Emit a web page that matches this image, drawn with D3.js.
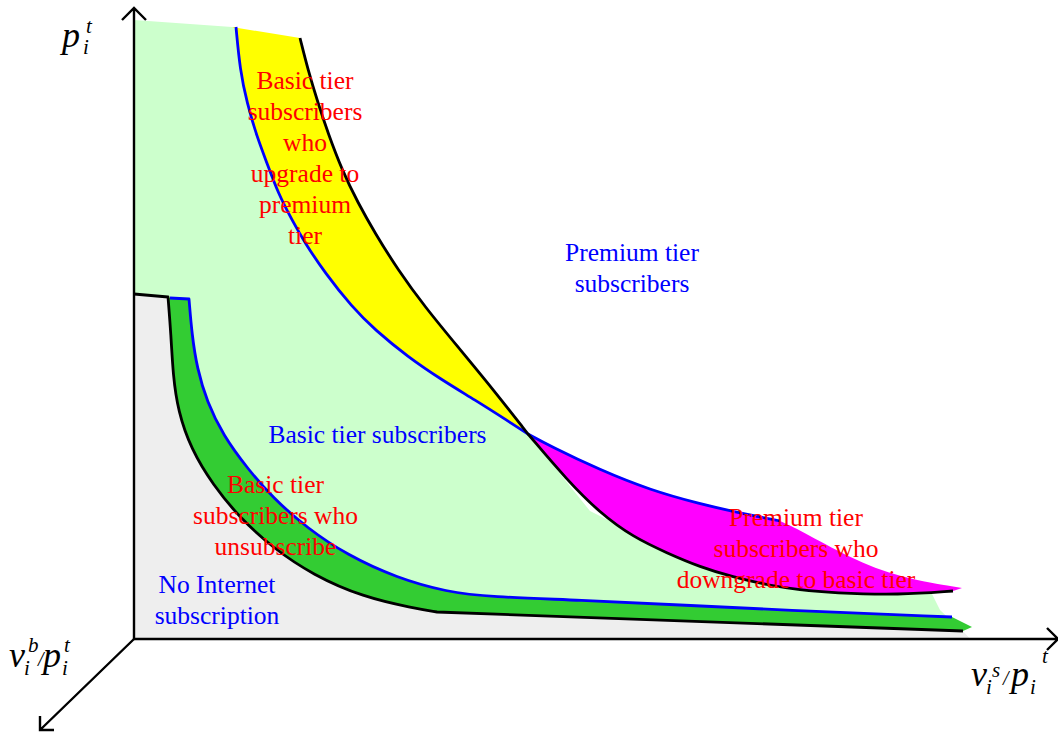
<!DOCTYPE html>
<html><head><meta charset="utf-8">
<script src="https://cdn.jsdelivr.net/npm/d3@7"></script>
<style>html,body{margin:0;padding:0;background:#fff;overflow:hidden}</style>
</head><body><svg id="c" width="1058" height="734"></svg>
<script>
// ---- data (schematic units: x = v_i^s/p_i^t, y = p_i^t) ----
const crossing = [39.4, 20.5];
const upperBlue = [[10.2,61.2],[10.6,56.9],[11.3,53.6],[12.3,50.2],[13.3,47.6],[14.4,44.6],[15.8,41.9],[17.1,39.6],[19.1,36.6],[21.8,33.2],[24.1,30.9],[27.4,28.2],[30.8,25.9],[34.1,23.9],[37.4,21.8],[39.4,20.5],[41.6,19.3],[46.6,16.9],[51.6,14.9],[56.6,13.5],[60.6,12.6],[64.6,11.8]];
const downgradeEdge = [[64.6,11.8],[66.6,10.9],[71.6,8.1],[76.6,6.1],[82.8,5.1]];
const upperBlack = [[16.6,60.1],[17.4,56.9],[18.4,53.6],[19.4,50.6],[20.8,46.9],[22.4,43.6],[24.1,40.6],[26.4,36.9],[29.1,33.2],[32.4,29.2],[35.8,25.1],[39.4,20.5],[43.3,15.9],[46.6,12.6],[49.9,10.2],[53.3,8.6],[56.6,7.2],[59.9,6.2],[63.3,5.4],[66.6,4.9],[69.9,4.6],[76.6,4.4],[81.9,4.8]];
const basicTop = [[0,61.9],[9.8,61.2]];
const upgradeTop = [[9.8,61.2],[16.6,60.1]];
const basicRightEdge = [[45.6,12.8],[48.0,11.6],[49.9,10.6],[53.3,9.0],[56.6,7.6],[59.9,6.6],[63.3,5.8],[66.6,5.3],[69.9,5.0],[76.6,4.8],[79.6,4.9],[80.6,2.9],[83.6,0]];
const lowerBlackTop = [[0,34.5],[3.4,34.2]];
const lowerBlack = [[3.4,34.2],[3.7,30.4],[3.9,26.4],[4.4,22.8],[5.7,19.0],[7.9,15.4],[10.6,12.1],[13.9,9.1],[17.9,6.4],[22.9,4.2],[27.9,3.1],[30.3,2.7]];
const lowerBlackTail = [[30.3,2.7],[82.9,0.8]];
const lowerBlueTop = [[3.6,34.1],[5.5,34.0]];
const lowerBlue = [[5.5,34.0],[5.8,30.4],[6.3,27.1],[7.3,23.7],[8.9,20.4],[11.3,17.1],[13.9,14.1],[17.3,11.1],[21.3,8.4],[26.3,6.1],[31.3,4.7],[35.6,4.2],[44.6,3.9],[54.6,3.4],[64.6,2.9],[81.8,2.2]];
const unsubscribeTip = [[81.8,2.2],[83.8,1.2],[82.9,0.8]];
const noInternetCorner = [[82.9,0.8],[83.6,0],[0,0]];

const labels = [
  {lines:["Basic tier","subscribers","who","upgrade to","premium","tier"], color:"#ff0000"},
  {lines:["Premium tier","subscribers"], color:"#0000ff"},
  {lines:["Basic tier subscribers"], color:"#0000ff"},
  {lines:["Basic tier","subscribers who","unsubscribe"], color:"#ff0000"},
  {lines:["No Internet","subscription"], color:"#0000ff"},
  {lines:["Premium tier","subscribers who","downgrade to basic tier"], color:"#ff0000"}
];
const labelAnchors = [[17.1,55.0],[49.8,37.8],[24.35,19.6],[14.15,14.6],[8.3,4.6],[66.2,11.3]];

// ---- drawing ----
const svg = d3.select("#c");
const x = d3.scaleLinear().domain([0, 92.4]).range([134, 1058]);
const y = d3.scaleLinear().domain([0, 63.9]).range([639, 0]);
const lin = d3.curveLinear, smooth = d3.curveBasis;
function seg(pts, curve, first){
  const s = d3.line().x(d=>x(d[0])).y(d=>y(d[1])).curve(curve)(pts);
  return first ? s : s.replace(/^M/, "L");
}
const rev = a => a.slice().reverse();
const beforeX = (a, cx) => a.filter(d => d[0] <= cx);
const afterX = (a, cx) => a.filter(d => d[0] >= cx);
const blueA = beforeX(upperBlue, crossing[0]), blueB = afterX(upperBlue, crossing[0]);
const blackA = beforeX(upperBlack, crossing[0]), blackB = afterX(upperBlack, crossing[0]);

// light green: basic tier subscribers
svg.append("path").attr("fill","#ccffcc").attr("d",
  seg(basicTop, lin, true) + seg(blueA, smooth) +
  seg([crossing].concat(basicRightEdge), lin) + seg([[83.6,0],[0,0]], lin) + "Z");
// yellow
svg.append("path").attr("fill","#ffff00").attr("d",
  seg(upgradeTop, lin, true) + seg(blackA, smooth) + seg(rev(blueA), smooth) + "Z");
// magenta
svg.append("path").attr("fill","#ff00ff").attr("d",
  seg(blueB, smooth, true) + seg(downgradeEdge, smooth) + seg(rev(blackB), smooth) + "Z");
// grey: no subscription
svg.append("path").attr("fill","#eeeeee").attr("d",
  seg(lowerBlackTop, lin, true) + seg(lowerBlack, smooth) + seg(lowerBlackTail, lin) +
  seg(noInternetCorner, lin) + "Z");
// dark green: unsubscribe
svg.append("path").attr("fill","#33cc33").attr("d",
  seg([lowerBlack[0]].concat(lowerBlueTop), lin, true) + seg(lowerBlue, smooth) +
  seg(unsubscribeTip, lin) + seg(rev(lowerBlackTail), lin) + seg(rev(lowerBlack), smooth) + "Z");

// boundary lines
const stroke = (d, c) => svg.append("path").attr("d", d).attr("fill","none")
  .attr("stroke", c).attr("stroke-width", 2.8).attr("stroke-linejoin","round");
stroke(seg(blueA, smooth, true) + seg(blueB, smooth), "#0000ff");
stroke(seg(blackA, smooth, true) + seg(blackB, smooth), "#000000");
stroke(seg(lowerBlueTop, lin, true) + seg(lowerBlue, smooth), "#0000ff");
stroke(seg(lowerBlackTop, lin, true) + seg(lowerBlack, smooth) + seg(lowerBlackTail, lin), "#000000");

// axes
const ax = svg.append("g").attr("fill","none").attr("stroke","#000").attr("stroke-width",2.4);
const ox = x(0), oy = y(0);
ax.append("path").attr("d", `M${ox},${oy}V8M${ox-12},20L${ox},8L${ox+12},20`);
ax.append("path").attr("d", `M${ox},${oy}H1058M1047,${oy-11}L1058,${oy}L1047,${oy+11}`);
ax.append("path").attr("d", `M${ox},${oy}L40,730M40,716L40,730L54,730`);

// region labels
labels.forEach((l, i) => {
  const t = svg.append("text").attr("text-anchor","middle")
    .attr("font-family","'Liberation Serif','Times New Roman',Times,serif")
    .attr("font-size", 25.5).attr("fill", l.color);
  l.lines.forEach((s, j) => t.append("tspan")
    .attr("x", x(labelAnchors[i][0])).attr("y", y(labelAnchors[i][1]) + j*31).text(s));
});

// axis titles
function it(xp, yp, s, size){
  svg.append("text").attr("x", xp).attr("y", yp)
    .attr("font-family","'Liberation Serif','Times New Roman',Times,serif")
    .attr("font-style","italic").attr("font-size", size).attr("fill","#000").text(s);
}
it(62,47,"p",36); it(83,54,"i",21); it(86,33,"t",21);
it(9,667,"v",36); it(24,675,"i",21); it(28,652,"b",21); it(38,666,"/",20);
it(43,667,"p",36); it(62,675,"i",21); it(64,652,"t",21);
it(971,686,"v",36); it(986,694,"i",21); it(992,677,"s",21); it(1003,685,"/",20);
it(1011,686,"p",36); it(1030,694,"i",21); it(1042,663,"t",21);
</script></body></html>
